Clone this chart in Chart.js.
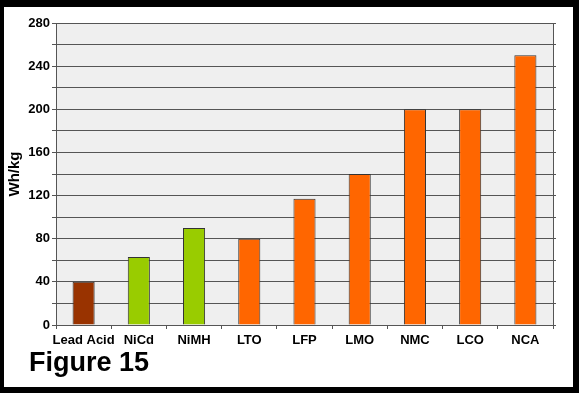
<!DOCTYPE html>
<html>
<head>
<meta charset="utf-8">
<script src="https://cdn.jsdelivr.net/npm/chart.js@4"></script>
<style>
  html, body { margin: 0; padding: 0; background: #000; }
  body { width: 579px; height: 393px; position: relative; overflow: hidden; }
  #wrap { position: absolute; left: 4px; top: 7px; width: 569px; height: 380px; background: #fff; }
</style>
</head>
<body>
<div id="wrap"><canvas id="energyChart" width="569" height="380"></canvas></div>
<script>
// battery chemistries and specific energy (Wh/kg)
const categories = ['Lead Acid', 'NiCd', 'NiMH', 'LTO', 'LFP', 'LMO', 'NMC', 'LCO', 'NCA'];
const energy = [40, 63, 90, 80, 117, 140, 200, 200, 250];
const family = ['lead', 'nickel', 'nickel', 'lithium', 'lithium', 'lithium', 'lithium', 'lithium', 'lithium'];
const yTicks = [0, 40, 80, 120, 160, 200, 240, 280];

const familyColor = { lead: '#993300', nickel: '#99cc00', lithium: '#ff6600' };
const fontFamily = '"Liberation Sans", Arial, sans-serif';
const gridColor = '#555555';

// grey plot area + figure caption
const chartDecor = {
    id: 'chartDecor',
    beforeDraw(chart) {
        const { ctx, chartArea: a } = chart;
        ctx.save();
        ctx.fillStyle = '#efefef';
        ctx.fillRect(a.left, a.top, a.right - a.left, a.bottom - a.top);
        ctx.restore();
    },
    afterDraw(chart) {
        const ctx = chart.ctx;
        ctx.save();
        ctx.fillStyle = '#000';
        ctx.font = 'bold 27px ' + fontFamily;
        ctx.textBaseline = 'alphabetic';
        ctx.fillText('Figure 15', 25, 364);
        ctx.restore();
    }
};

const ctx = document.getElementById('energyChart').getContext('2d');
new Chart(ctx, {
    type: 'bar',
    data: {
        labels: categories,
        datasets: [{
            label: 'Wh/kg',
            data: energy,
            backgroundColor: family.map(f => familyColor[f]),
            borderColor: '#333333',
            borderWidth: 1,
            categoryPercentage: 1,
            barPercentage: 0.4
        }]
    },
    options: {
        responsive: false,
        animation: false,
        layout: { padding: { top: 16, left: 0, right: 15, bottom: 32 } },
        plugins: { legend: { display: false }, tooltip: { enabled: false } },
        scales: {
            x: {
                grid: { drawOnChartArea: false, offset: true, color: gridColor, tickLength: 4 },
                border: { color: gridColor },
                ticks: { color: '#000', padding: 4, maxRotation: 0, autoSkip: false,
                         font: { family: fontFamily, size: 13, weight: 'bold' } },
                afterFit: s => { s.height = 30; }
            },
            y: {
                min: 0,
                max: yTicks[yTicks.length - 1],
                ticks: {
                    stepSize: 20,
                    color: '#000',
                    padding: 2,
                    font: { family: fontFamily, size: 13, weight: 'bold' },
                    callback: v => yTicks.includes(v) ? v : ''
                },
                grid: { color: gridColor, tickLength: 4 },
                border: { color: gridColor },
                title: {
                    display: true, text: 'Wh/kg', color: '#000', padding: { top: 2, bottom: 0 },
                    font: { family: fontFamily, size: 15, weight: 'bold' }
                },
                afterFit: s => { s.width = 52; }
            },
            y2: {
                position: 'right',
                min: 0,
                max: yTicks[yTicks.length - 1],
                ticks: { display: false, stepSize: 20 },
                grid: { drawOnChartArea: false, color: gridColor, tickLength: 3 },
                border: { color: gridColor },
                afterFit: s => { s.width = 5; }
            }
        }
    },
    plugins: [chartDecor]
});
</script>
</body>
</html>
